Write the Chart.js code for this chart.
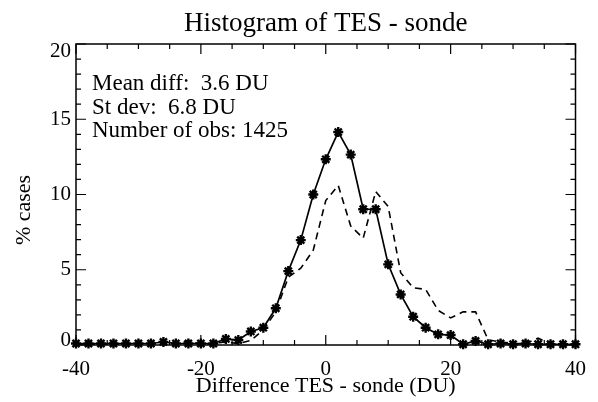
<!DOCTYPE html>
<html>
<head>
<meta charset="utf-8">
<script src="https://cdn.jsdelivr.net/npm/chart.js@4/dist/chart.umd.min.js"></script>
<style>
  html, body { margin: 0; padding: 0; background: #fff; }
  #wrap { width: 598px; height: 402px; }
</style>
</head>
<body>
<div id="wrap"><canvas id="histChart" width="598" height="402"></canvas></div>
<script>
// bin centres (DU)
const diffBins = [-40, -38, -36, -34, -32, -30, -28, -26, -24, -22, -20, -18, -16, -14, -12, -10, -8, -6, -4, -2,
                  0, 2, 4, 6, 8, 10, 12, 14, 16, 18, 20, 22, 24, 26, 28, 30, 32, 34, 36, 38, 40];
// % cases, solid line with asterisks
const tesSonde = [0.1, 0.1, 0.1, 0.1, 0.1, 0.1, 0.1, 0.2, 0.1, 0.1, 0.1, 0.1, 0.4, 0.33, 0.9, 1.15, 2.44, 4.91, 6.97, 10.0,
                  12.34, 14.15, 12.65, 9.02, 9.02, 5.36, 3.36, 1.88, 1.15, 0.71, 0.66, 0.05, 0.27, 0.05, 0.1, 0.05, 0.1, 0.05, 0.05, 0.05, 0.05];
// % cases, dashed line
const dashedSeries = [0.05, 0.05, 0.05, 0.05, 0.05, 0.05, 0.05, 0.1, 0.05, 0.28, 0.05, 0.1, 0.2, 0.1, 0.3, 1.0, 2.2, 4.5, 5.1, 6.3,
                      9.6, 10.6, 7.9, 7.1, 10.2, 9.2, 4.8, 3.8, 3.7, 2.3, 1.8, 2.2, 2.2, 0.35, 0.2, 0.1, 0.1, 0.45, 0.1, 0.05, 0.05];
const xTickLabels = [-40, -20, 0, 20, 40];
const yTickLabels = [0, 5, 10, 15, 20];
const statsLines = ['Mean diff:  3.6 DU', 'St dev:  6.8 DU', 'Number of obs: 1425'];

const FONT = '"Liberation Serif", "Times New Roman", serif';

function toPoints(ys) {
    return diffBins.map((x, i) => ({ x: x, y: ys[i] }));
}

// IDL-style box, inward ticks, y labels and text
const idlFrame = {
    id: 'idlFrame',
    afterDraw(chart) {
        const ctx = chart.ctx;
        const a = chart.chartArea;
        const xs = chart.scales.x, ys = chart.scales.y;
        ctx.save();
        ctx.strokeStyle = '#000';
        ctx.lineWidth = 1.5;
        ctx.strokeRect(a.left, a.top, a.right - a.left, a.bottom - a.top);

        ctx.lineWidth = 1.2;
        ctx.beginPath();
        for (let v = xs.min; v <= xs.max; v += 5) {
            const px = xs.getPixelForValue(v);
            const len = (v % 20 === 0) ? 10 : 5;
            ctx.moveTo(px, a.bottom); ctx.lineTo(px, a.bottom - len);
            ctx.moveTo(px, a.top); ctx.lineTo(px, a.top + len);
        }
        for (let v = ys.min; v <= ys.max; v += 1) {
            const py = ys.getPixelForValue(v);
            const len = (v % 5 === 0) ? 10 : 5;
            ctx.moveTo(a.left, py); ctx.lineTo(a.left + len, py);
            ctx.moveTo(a.right, py); ctx.lineTo(a.right - len, py);
        }
        ctx.stroke();

        ctx.fillStyle = '#000';
        // y tick labels, kept inside the box height like IDL
        ctx.font = '21px ' + FONT;
        ctx.textAlign = 'right';
        ctx.textBaseline = 'middle';
        yTickLabels.forEach(v => {
            let py = ys.getPixelForValue(v);
            py = Math.min(Math.max(py, a.top + 7), a.bottom - 5);
            ctx.fillText(String(v), a.left - 5, py);
        });

        // title
        ctx.textAlign = 'center';
        ctx.textBaseline = 'alphabetic';
        ctx.font = '27px ' + FONT;
        ctx.fillText('Histogram of TES - sonde', (a.left + a.right) / 2, 31);

        // x axis title
        ctx.font = '22px ' + FONT;
        ctx.fillText('Difference TES - sonde (DU)', (a.left + a.right) / 2, 392);

        // y axis title
        ctx.save();
        ctx.translate(30, 210);
        ctx.rotate(-Math.PI / 2);
        ctx.fillText('% cases', 0, 0);
        ctx.restore();

        // statistics
        ctx.textAlign = 'left';
        ctx.font = '23px ' + FONT;
        statsLines.forEach((t, i) => ctx.fillText(t, 92, 90 + i * 23.5));
        ctx.restore();
    }
};

const ctx = document.getElementById('histChart').getContext('2d');
new Chart(ctx, {
    type: 'line',
    data: {
        datasets: [
            {
                label: 'TES - sonde',
                data: toPoints(tesSonde),
                borderColor: '#000',
                borderWidth: 1.7,
                pointStyle: 'star',
                pointRadius: 5,
                pointBorderWidth: 2.4,
                pointBorderColor: '#000',
                pointBackgroundColor: '#000',
                tension: 0,
                clip: false
            },
            {
                label: 'dashed',
                data: toPoints(dashedSeries),
                borderColor: '#000',
                borderWidth: 1.6,
                borderDash: [7, 5],
                pointRadius: 0,
                tension: 0,
                clip: false
            }
        ]
    },
    options: {
        responsive: false,
        animation: false,
        layout: { padding: { top: 44, right: 16, left: 0, bottom: 0 } },
        plugins: {
            legend: { display: false },
            tooltip: { enabled: false }
        },
        scales: {
            x: {
                type: 'linear',
                min: -40,
                max: 40,
                afterFit: s => { s.height = 57; },
                grid: { display: false, drawTicks: false },
                border: { display: false },
                ticks: {
                    stepSize: 20,
                    padding: 12,
                    maxRotation: 0,
                    color: '#000',
                    font: { family: FONT, size: 21 }
                }
            },
            y: {
                min: 0,
                max: 20,
                afterFit: s => { s.width = 76; },
                grid: { display: false, drawTicks: false },
                border: { display: false },
                ticks: { stepSize: 5, display: false }
            }
        }
    },
    plugins: [idlFrame]
});
</script>
</body>
</html>
